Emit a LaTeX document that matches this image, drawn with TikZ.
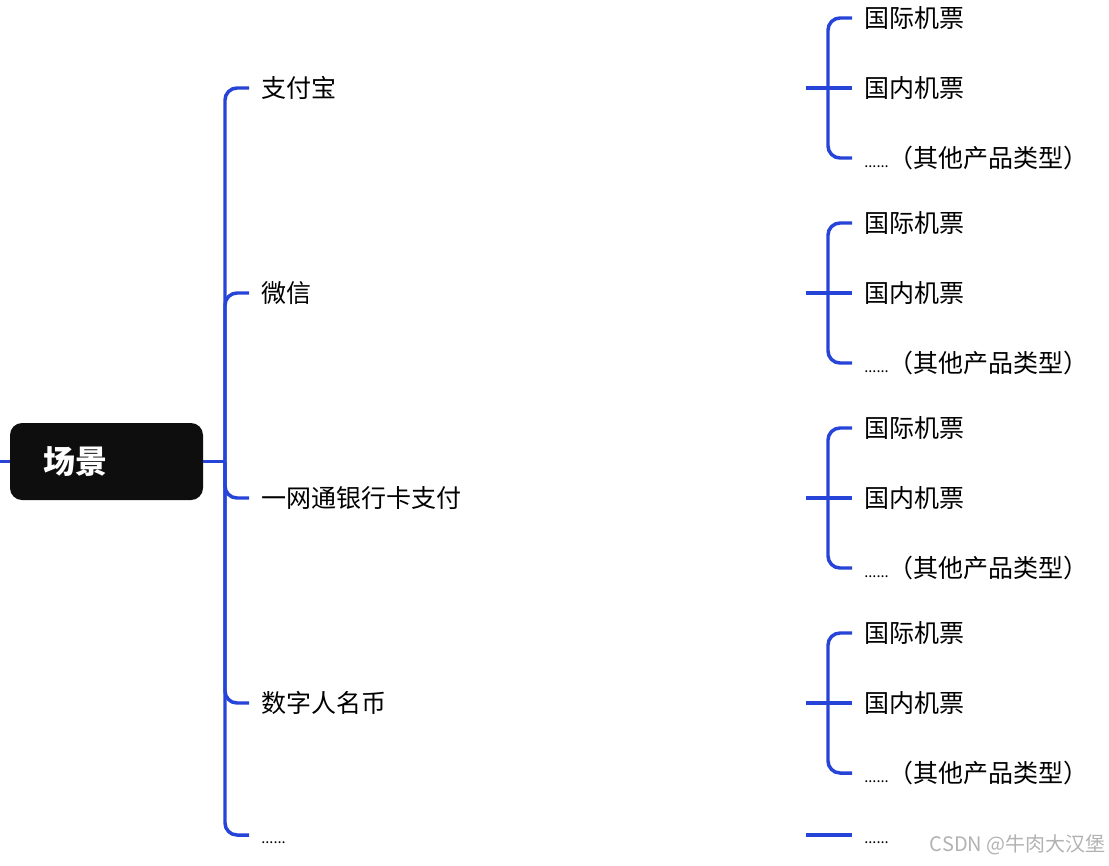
\documentclass[tikz,border=0pt]{standalone}
\usepackage{fontspec}
\newfontfamily\cjk{Noto Sans CJK SC}
\definecolor{lineblue}{RGB}{39,68,216}
\definecolor{rootblack}{RGB}{14,14,14}
\definecolor{markgray}{RGB}{178,178,178}
\newcommand{\moredots}{\vphantom{国}{\fontsize{11}{12}\selectfont......}}

\begin{document}
\begin{tikzpicture}[x=0.75pt,y=-0.75pt,
  link/.style={draw=lineblue,line width=2.6pt,rounded corners=9pt},
  kid/.style={anchor=west,inner xsep=9pt,inner ysep=0pt,font=\cjk\fontsize{18.75}{21}\selectfont}]
\useasboundingbox (0,0) rectangle (1109,865);
\node[fill=rootblack,rounded corners=9pt,text=white,inner xsep=24.75pt,text width=95.25pt,align=left,minimum height=57.75pt,font=\cjk\bfseries\fontsize{24}{26}\selectfont] (root) at (106.5,461.5) {场景};
\coordinate (in) at (0,461.5);\coordinate (j) at (225,461.5);
\draw[link] (in) -- (root.west);\draw[link] (root.east) -- (j);
\foreach \i/\y/\t in {1/88/支付宝,2/293/微信,3/498/一网通银行卡支付,4/703/数字人名币}{
  \node[kid] (c\i) at (249,\y) {\t};
  \draw[link] (j) |- (c\i.west);
  \coordinate (g\i) at (806,\y);\coordinate (b\i) at (828,\y);
  \node[kid] (l\i b) at (852,\y) {国内机票};
  \draw[link] (g\i) -- (l\i b.west);
  \foreach \k/\d/\s in {a/-70/国际机票,c/70/\moredots（其他产品类型）}{
    \node[kid] (l\i\k) at (852,\y+\d) {\s};
    \draw[link] (b\i) |- (l\i\k.west);
  }
}
\node[kid] (c5) at (249,835) {\moredots};\draw[link] (j) |- (c5.west);
\coordinate (g5) at (806,835);
\node[kid] (l5) at (852,835) {\moredots};\draw[link] (g5) -- (l5.west);
\node[anchor=east,inner sep=0pt,text=markgray,font=\cjk\fontsize{15}{16}\selectfont] (mark) at (1106,845) {CSDN @牛肉大汉堡};
\end{tikzpicture}
\end{document}
